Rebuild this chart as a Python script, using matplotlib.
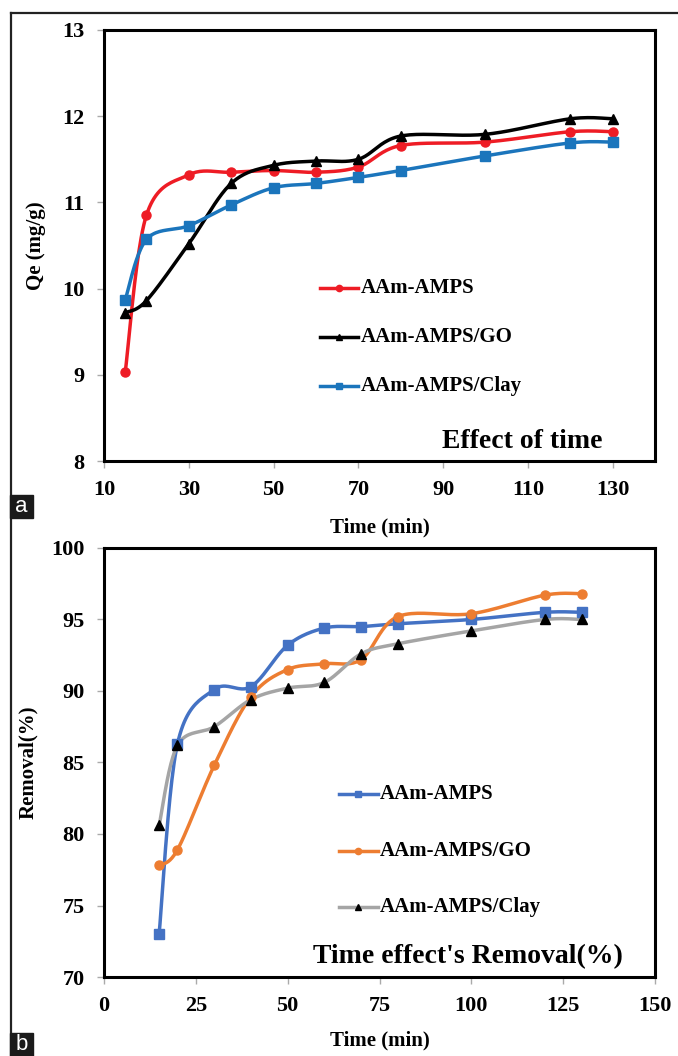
import matplotlib
matplotlib.use("Agg")
import matplotlib.pyplot as plt
from matplotlib.lines import Line2D
from matplotlib.patches import Rectangle
import numpy as np

plt.rcParams['font.family'] = ['Liberation Serif', 'DejaVu Serif']
plt.rcParams['font.weight'] = 'bold'

# time points (min)
time = [15, 20, 30, 40, 50, 60, 70, 80, 100, 120, 130]

# panel a: Qe (mg/g)
qe_amps = [9.03, 10.85, 11.32, 11.35, 11.37, 11.35, 11.41, 11.66, 11.70, 11.82, 11.82]
qe_go = [9.72, 9.86, 10.52, 11.22, 11.43, 11.48, 11.50, 11.77, 11.79, 11.97, 11.97]
qe_clay = [9.87, 10.57, 10.73, 10.97, 11.17, 11.22, 11.29, 11.37, 11.54, 11.69, 11.70]

# panel b: removal (%)
rem_amps = [73.0, 86.3, 90.1, 90.3, 93.2, 94.4, 94.5, 94.7, 95.0, 95.5, 95.5]
rem_go = [77.8, 78.9, 84.8, 89.6, 91.5, 91.9, 92.2, 95.2, 95.4, 96.7, 96.8]
rem_clay = [80.6, 86.2, 87.5, 89.4, 90.2, 90.6, 92.6, 93.3, 94.2, 95.0, 95.0]

labels = ['AAm-AMPS', 'AAm-AMPS/GO', 'AAm-AMPS/Clay']


def smooth(x, y, n=24):
    # Excel style smoothed line (Bezier through the points)
    pts = np.column_stack([x, y]).astype(float)
    P = np.vstack([pts[0], pts, pts[-1]])
    out = []
    t = np.linspace(0, 1, n)[:, None]
    for i in range(1, len(P) - 2):
        p0, p1, p2, p3 = P[i - 1], P[i], P[i + 1], P[i + 2]
        c1 = p1 + (p2 - p0) / 6
        c2 = p2 - (p3 - p1) / 6
        b = (1 - t)**3 * p1 + 3 * (1 - t)**2 * t * c1 + 3 * (1 - t) * t**2 * c2 + t**3 * p2
        out.append(b if i == 1 else b[1:])
    c = np.vstack(out)
    return c[:, 0], c[:, 1]


def series(ax, y, lc, mc, marker, ms):
    sx, sy = smooth(time, y)
    ax.plot(sx, sy, color=lc, lw=2.5, zorder=3)
    ax.plot(time, y, linestyle='none', marker=marker, color=mc, ms=ms, zorder=4)


def legend(ax, entries, x0, x1, xt, ys):
    for (lc, mc, marker, ms, lab), yy in zip(entries, ys):
        ax.add_line(Line2D([x0, x1], [yy, yy], transform=ax.transAxes, color=lc, lw=2.5))
        ax.add_line(Line2D([(x0 + x1) / 2], [yy], transform=ax.transAxes, marker=marker,
                           color=mc, ms=ms))
        ax.text(xt, yy, lab, transform=ax.transAxes, fontsize=15, fontweight='bold',
                va='center', ha='left')


def style(ax):
    for s in ax.spines.values():
        s.set_linewidth(2.2)
        s.set_color('black')
    ax.tick_params(direction='out', length=5, width=1, color='#aaaaaa', labelsize=16, pad=9)
    for lab in ax.get_xticklabels() + ax.get_yticklabels():
        lab.set_fontweight('bold')


fig = plt.figure(figsize=(6.78, 10.56), dpi=100)

# ---- panel a ----
ax1 = fig.add_axes([0.1534, 0.5634, 0.8127, 0.4082])
ax1.set_xlim(10, 140)
ax1.set_ylim(8, 13)
ax1.set_xticks(range(10, 131, 20))
ax1.set_yticks(range(8, 14))
series(ax1, qe_amps, '#ee1c25', '#ee1c25', 'o', 6.5)
series(ax1, qe_go, 'black', 'black', '^', 6.5)
series(ax1, qe_clay, '#1b75bc', '#1b75bc', 's', 6.5)
style(ax1)
ax1.set_xlabel('Time (min)', fontsize=15, fontweight='bold')
ax1.xaxis.set_label_coords(0.5, -0.13)
ax1.set_ylabel('Qe (mg/g)', fontsize=15, fontweight='bold')
ax1.yaxis.set_label_coords(-0.105, 0.5)
legend(ax1, [('#ee1c25', '#ee1c25', 'o', 4.5, labels[0]),
             ('black', 'black', '^', 4.5, labels[1]),
             ('#1b75bc', '#1b75bc', 's', 4.5, labels[2])],
       0.392, 0.461, 0.466, [0.401, 0.288, 0.174])
ax1.text(0.759, 0.045, 'Effect of time', transform=ax1.transAxes, fontsize=20,
         fontweight='bold', ha='center', va='center')

# ---- panel b ----
ax2 = fig.add_axes([0.1534, 0.0748, 0.8127, 0.4063])
ax2.set_xlim(0, 150)
ax2.set_ylim(70, 100)
ax2.set_xticks(range(0, 151, 25))
ax2.set_yticks(range(70, 101, 5))
series(ax2, rem_amps, '#4472c4', '#4472c4', 's', 6.5)
series(ax2, rem_go, '#ed7d31', '#ed7d31', 'o', 6.5)
series(ax2, rem_clay, '#a5a5a5', 'black', '^', 6.5)
style(ax2)
ax2.set_xlabel('Time (min)', fontsize=15, fontweight='bold')
ax2.xaxis.set_label_coords(0.5, -0.125)
ax2.set_ylabel('Removal(%)', fontsize=15, fontweight='bold')
ax2.yaxis.set_label_coords(-0.12, 0.5)
legend(ax2, [('#4472c4', '#4472c4', 's', 4.5, labels[0]),
             ('#ed7d31', '#ed7d31', 'o', 4.5, labels[1]),
             ('#a5a5a5', 'black', '^', 4.5, labels[2])],
       0.4265, 0.497, 0.501, [0.4266, 0.2937, 0.1632])
ax2.text(0.660, 0.047, "Time effect's Removal(%)", transform=ax2.transAxes, fontsize=20,
         fontweight='bold', ha='center', va='center')

# outer frame lines
fig.add_artist(Line2D([11 / 678, 11 / 678], [0, 1 - 13 / 1056], transform=fig.transFigure,
                      color='#222222', lw=1.6))
fig.add_artist(Line2D([11 / 678, 1], [1 - 13 / 1056, 1 - 13 / 1056], transform=fig.transFigure,
                      color='#222222', lw=1.6))

# panel letters
for lab, ytop in [('a', 495), ('b', 1033)]:
    fig.add_artist(Rectangle((10 / 678, 1 - (ytop + 23) / 1056), 23 / 678, 23 / 1056,
                             transform=fig.transFigure, color='#1a1a1a', zorder=5))
    fig.text(21.5 / 678, 1 - (ytop + 11.5) / 1056, lab, color='white', fontsize=16,
             family=['Liberation Sans', 'DejaVu Sans'], fontweight='normal',
             ha='center', va='center', zorder=6)

fig.savefig('out.png', dpi=100)
